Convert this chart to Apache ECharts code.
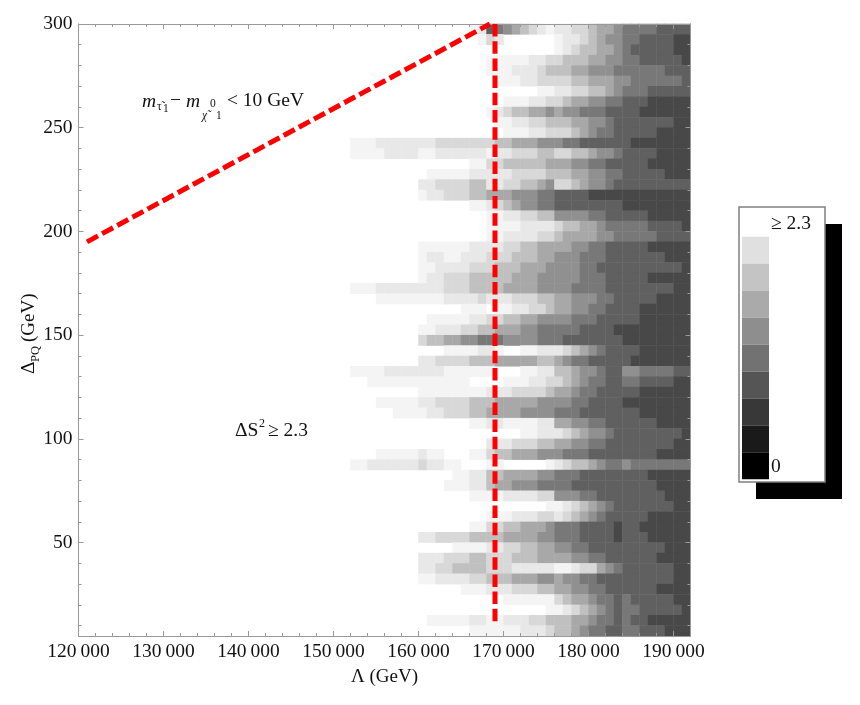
<!DOCTYPE html>
<html>
<head>
<meta charset="utf-8">
<title>Delta S2 scan</title>
<script src="https://cdn.jsdelivr.net/npm/echarts@6/dist/echarts.min.js"></script>
<style>
html, body { margin: 0; background: #fff; }
#chart { width: 860px; height: 705px; }
</style>
</head>
<body>
<div id="chart"></div>
<script>
// shade level, 0 = white (>= 2.3), 9 = darkest
// one string per 5 GeV row from 300 down to 5, columns 1000 GeV wide from 152000 to 192000
var levelRows = [
'00000000 00000012 87654321 22334556 77778888',
'00000000 00000001 32000000 12234566 77888899',
'00000000 00000000 00000000 12344556 78888899',
'00000000 00000000 11111223 34445566 77888889',
'00000000 00000000 11122234 44556667 77777888',
'00000000 00000000 01112233 33445556 67777778',
'00000000 00000000 00000011 22334456 77788888',
'00000000 00000000 00111223 34556677 88899999',
'00000000 00000000 12344556 56677788 88999999',
'00000000 00000000 01122334 44556678 88888899',
'00000000 00000000 00111223 33456778 88889999',
'11122222 22333333 34455566 67788888 89999999',
'11112222 11222222 12233344 33445667 88889999',
'00000000 00000011 33444445 55667788 88899999',
'00000000 01111122 22233334 44556677 88888999',
'00000000 22333344 22334456 33456678 88888888',
'00000000 12233344 55566677 88889999 99999999',
'00000000 00000011 23456677 88888888 99999999',
'00000000 00000000 11223344 66667788 88899999',
'00000000 00000000 11112222 34455677 77788889',
'00000000 00000000 11222233 45555667 77778888',
'00000000 11111122 22334455 55667788 88899999',
'00000000 12211222 33344455 66677788 88888999',
'00000000 11222233 34445556 66677888 88888889',
'00000000 12233344 44455566 66677788 88899999',
'11122222 22233344 44555566 66777788 88888899',
'00011111 11122223 22233344 55666778 88889999',
'00000000 00000111 01122334 55667788 88999999',
'00000000 01111122 33445566 66777888 88999999',
'00000000 11222334 45556677 77788889 99999999',
'00000000 34455667 77666677 78888888 99999999',
'00000000 00011112 21001122 23456788 88999999',
'00000000 22333344 45555544 56778888 89999999',
'11112222 22211111 10001122 44566788 66777788',
'00111111 11111100 00111223 34567788 77888899',
'00000000 11111111 22233334 55677888 88999999',
'00011111 22333344 45555566 66778888 99999999',
'00000111 12233344 55556666 77788888 88999999',
'00000000 00000011 22111122 55667788 88889999',
'00000000 00000000 00001122 23456678 88888889',
'00000000 00000000 22233344 55667788 88888899',
'00011111 21100011 34455566 67778888 88889999',
'11222222 32211000 11000001 23445677 67777777',
'00000000 00001122 44555566 77788888 88899999',
'00000000 00011122 45566677 77888888 88889999',
'00000000 00000011 11222233 66677888 88888999',
'00000000 00000000 00000001 12345678 88888899',
'00000000 00000000 11122233 23456788 88899999',
'00000000 00000011 33445556 77788889 88999999',
'00000000 22333344 44555566 77788889 88899999',
'00000000 00001111 22334455 66778888 88888999',
'00000000 22233344 33344455 55667788 88889999',
'00000000 22334444 33322222 11233567 88888899',
'00000000 11222233 44455566 56677888 88888899',
'00000000 00000111 22233344 55667788 88889999',
'00000000 00000000 00111111 34556778 78888899',
'00000000 00000000 00000001 12345678 77888889',
'00000000 01111122 11222334 44556778 78899999',
'00000000 00000011 11112223 44567788 77888999'
];
var firstColumn = 152000;
var levelGrays = ['#ffffff', '#f4f4f4', '#e8e8e8', '#d8d8d8', '#c0c0c0', '#a8a8a8', '#909090', '#787878', '#606060', '#484848'];
var legendGrays = ['#e0e0e0', '#c4c4c4', '#aaaaaa', '#8e8e8e', '#727272', '#555555', '#383838', '#1a1a1a', '#000000'];

var xMajorTicks = [120000, 130000, 140000, 150000, 160000, 170000, 180000, 190000];
var xMinorTicks = [122000, 124000, 126000, 128000, 132000, 134000, 136000, 138000, 142000, 144000, 146000, 148000, 152000, 154000, 156000, 158000, 162000, 164000, 166000, 168000, 172000, 174000, 176000, 178000, 182000, 184000, 186000, 188000];
var yMajorTicks = [50, 100, 150, 200, 250, 300];
var yMinorTicks = [10, 20, 30, 40, 60, 70, 80, 90, 110, 120, 130, 140, 160, 170, 180, 190, 210, 220, 230, 240, 260, 270, 280, 290];

var slopeLine = [[121000, 195], [168400, 300]];
var cutLine = [[169000, 300], [169000, 11]];

var serif = '"Liberation Serif", "Times New Roman", serif';

var xCats = [];
for (var c = 120000; c < 192000; c += 1000) xCats.push(c);
var yCats = [];
for (var r = 0; r < levelRows.length; r++) yCats.push(5 + r * 5);

var heatData = [];
levelRows.forEach(function (row, r) {
    var cells = row.replace(/ /g, '');
    var yIndex = levelRows.length - 1 - r;
    for (var i = 0; i < cells.length; i++) {
        var lev = +cells[i];
        if (lev > 0) heatData.push([xCats.indexOf(firstColumn + i * 1000), yIndex, lev]);
    }
});

function tickAxis(position, min, max, ticks, len, labelled) {
    var gray = '#999999';
    var axis = {
        type: 'value', position: position, min: min, max: max, z: 10, scale: true,
        splitLine: { show: false },
        axisLine: { show: true, onZero: false, lineStyle: { color: gray, width: 1 } },
        axisTick: { show: true, inside: true, length: len, customValues: ticks, lineStyle: { color: gray, width: 1 } },
        axisLabel: { show: false }
    };
    if (labelled) {
        axis.axisLabel = {
            show: true, customValues: ticks, color: '#111', fontFamily: serif, fontSize: 19.5, margin: 6,
            formatter: function (v) {
                return v >= 1000 ? Math.floor(v / 1000) + '\u2009' + ('00' + (v % 1000)).slice(-3) : String(v);
            }
        };
    }
    return axis;
}

function txt(text, x, y, size, extra) {
    var style = { text: text, x: x, y: y, fontSize: size, fontFamily: serif, fill: '#111', textVerticalAlign: 'middle', verticalAlign: 'middle' };
    for (var k in extra) style[k] = extra[k];
    return { type: 'text', z: 30, style: style };
}
function rotTxt(text, x, y, size) {
    return { type: 'text', z: 30, x: x, y: y, rotation: Math.PI / 2,
        style: { text: text, fontSize: size, fontFamily: serif, fill: '#111', verticalAlign: 'middle' } };
}

var graphics = [
    { type: 'rect', z: 20, shape: { x: 756, y: 224, width: 86, height: 275 }, style: { fill: '#000' } },
    { type: 'rect', z: 21, shape: { x: 739, y: 207, width: 86, height: 275 }, style: { fill: '#fff', stroke: '#808080', lineWidth: 1.5 } }
];
legendGrays.forEach(function (col, i) {
    graphics.push({ type: 'rect', z: 22, shape: { x: 742, y: 236.7 + i * 26.95, width: 27, height: 26.95 }, style: { fill: col } });
});
graphics.push(
    txt('\u2265 2.3', 771, 224, 19.5),
    txt('0', 771, 467, 19.5),
    // m_stau - m_chi annotation
    txt('m', 142, 102, 19.5, { fontStyle: 'italic' }),
    txt('\u03c4\u0303', 157, 107, 11.5),
    txt('1', 163, 109, 11.5),
    txt('\u2212', 170, 101, 19.5),
    txt('m', 186, 102, 19.5, { fontStyle: 'italic' }),
    txt('\u03c7\u0303', 202, 116, 11.5, { fontStyle: 'italic' }),
    txt('0', 210, 104, 11.5),
    txt('1', 216, 116, 11.5),
    txt('< 10 GeV', 227, 101, 19.5),
    // delta S^2 annotation
    txt('\u0394S', 235, 431, 19.5),
    txt('2', 259, 424, 12),
    txt('\u2265 2.3', 268, 431, 19.5),
    // axis titles
    txt('\u039b (GeV)', 351, 677, 19),
    rotTxt('\u0394', 29, 374, 19.5),
    rotTxt('PQ', 36, 362, 12.5),
    rotTxt('(GeV)', 29, 342, 19)
);

var myChart = echarts.init(document.getElementById('chart'));

var option = {
    animation: false,
    backgroundColor: '#fff',
    grid: { left: 78.5, right: 169.5, top: 24, bottom: 69 },
    visualMap: {
        show: false, type: 'piecewise', dimension: 2, seriesIndex: 0,
        pieces: levelGrays.map(function (col, i) { return { value: i, color: col }; })
    },
    xAxis: [
        { type: 'category', data: xCats, show: false },
        tickAxis('bottom', 120000, 192000, xMajorTicks, 5, true),
        tickAxis('bottom', 120000, 192000, xMinorTicks, 3, false),
        tickAxis('top', 120000, 192000, xMajorTicks, 5, false),
        tickAxis('top', 120000, 192000, xMinorTicks, 3, false)
    ],
    yAxis: [
        { type: 'category', data: yCats, show: false },
        tickAxis('left', 5, 300, yMajorTicks, 5, true),
        tickAxis('left', 5, 300, yMinorTicks, 3, false),
        tickAxis('right', 5, 300, yMajorTicks, 5, false),
        tickAxis('right', 5, 300, yMinorTicks, 3, false)
    ],
    series: [
        { type: 'heatmap', xAxisIndex: 0, yAxisIndex: 0, data: heatData, z: 2, progressive: 0 },
        { type: 'line', xAxisIndex: 1, yAxisIndex: 1, data: slopeLine, symbol: 'none', silent: true, z: 20,
          lineStyle: { color: '#ff0000', width: 5, type: [12.5, 4.7] } },
        { type: 'line', xAxisIndex: 1, yAxisIndex: 1, data: cutLine, symbol: 'none', silent: true, z: 20,
          lineStyle: { color: '#ff0000', width: 5, type: [12.5, 4.7] } }
    ],
    graphic: graphics
};

myChart.setOption(option);
</script>
</body>
</html>
